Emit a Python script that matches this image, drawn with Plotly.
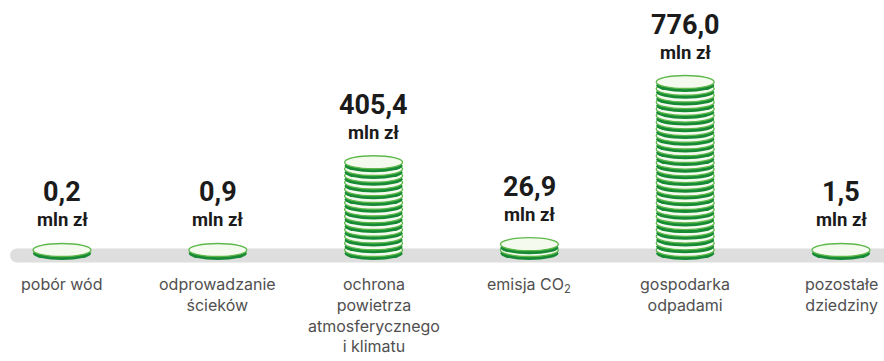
import plotly.graph_objects as go

# ---- data ----
categories = ["pobór wód",
              "odprowadzanie<br>ścieków",
              "ochrona<br>powietrza<br>atmosferycznego<br>i klimatu",
              "emisja CO<sub>2</sub>",
              "gospodarka<br>odpadami",
              "pozostałe<br>dziedziny"]
values = [0.2, 0.9, 405.4, 26.9, 776.0, 1.5]
value_labels = ["0,2", "0,9", "405,4", "26,9", "776,0", "1,5"]
unit_label = "mln zł"
coin_value = 31.0  # mln zł represented by one coin step

# ---- styling ----
W, H = 884, 361
px_per_cat = 155.8
first_cat_px = 62
px_per_unit = 168.0 / 776.0
base_px = 250  # pixel row (from top) of the base coin centre

x_lo = -first_cat_px / px_per_cat
x_hi = x_lo + W / px_per_cat
y_hi = base_px / px_per_unit
y_lo = -(H - base_px) / px_per_unit

DARK = "#178a36"
EDGE = "#5db84a"
FACE = "#f4faee"
BAND = "#dedede"
VAL_FONT = "Roboto"
CAT_FONT = "Inter"

fig = go.Figure()
fig.add_trace(go.Scatter(x=list(range(len(values))), y=values, mode="markers",
                         marker=dict(opacity=0), hoverinfo="skip", showlegend=False))

shapes = []
# grey band with rounded left end
shapes.append(dict(type="rect", xref="x", yref="y", xsizemode="pixel", ysizemode="pixel",
                   xanchor=x_lo, yanchor=0, x0=17, x1=W + 10, y0=-12.5, y1=1.5,
                   fillcolor=BAND, line=dict(width=0), layer="below"))
shapes.append(dict(type="circle", xref="x", yref="y", xsizemode="pixel", ysizemode="pixel",
                   xanchor=x_lo, yanchor=0, x0=10, x1=24, y0=-12.5, y1=1.5,
                   fillcolor=BAND, line=dict(width=0), layer="below"))

for i, v in enumerate(values):
    steps = round(v / coin_value) if v >= 10 else 0
    n = steps + 1
    for k in range(n):
        yc = v * k / steps if steps else 0.0
        shapes.append(dict(type="circle", xref="x", yref="y", xsizemode="pixel",
                           ysizemode="pixel", xanchor=i, yanchor=yc,
                           x0=-29, x1=29, y0=-10, y1=3,
                           fillcolor=DARK, line=dict(width=0)))
        shapes.append(dict(type="circle", xref="x", yref="y", xsizemode="pixel",
                           ysizemode="pixel", xanchor=i, yanchor=yc,
                           x0=-29, x1=29, y0=-6.5, y1=6.5,
                           fillcolor=FACE, line=dict(width=1.3, color=EDGE)))

annotations = []
for i, (v, lab, cat) in enumerate(zip(values, value_labels, categories)):
    annotations.append(dict(x=i, y=v, xref="x", yref="y", text=lab, showarrow=False,
                            yanchor="middle", yshift=57.5,
                            font=dict(family=VAL_FONT, size=27, color="#1b1b1b", weight="bold")))
    annotations.append(dict(x=i, y=v, xref="x", yref="y", text=unit_label, showarrow=False,
                            yanchor="middle", yshift=29.5,
                            font=dict(family=VAL_FONT, size=18.5, color="#1b1b1b", weight="bold")))
    annotations.append(dict(x=i, y=0, xref="x", yref="y", text=cat, showarrow=False,
                            yanchor="top", yshift=-22,
                            font=dict(family=CAT_FONT, size=16, color="#505050")))

fig.update_layout(
    width=W, height=H, margin=dict(l=0, r=0, t=0, b=0),
    paper_bgcolor="white", plot_bgcolor="white",
    xaxis=dict(range=[x_lo, x_hi], visible=False, fixedrange=True),
    yaxis=dict(range=[y_lo, y_hi], visible=False, fixedrange=True),
    shapes=shapes, annotations=annotations, showlegend=False,
)

fig.write_html("out.html", config={"displayModeBar": False},
               post_script="document.body.style.margin='0';document.body.style.overflow='hidden';")
